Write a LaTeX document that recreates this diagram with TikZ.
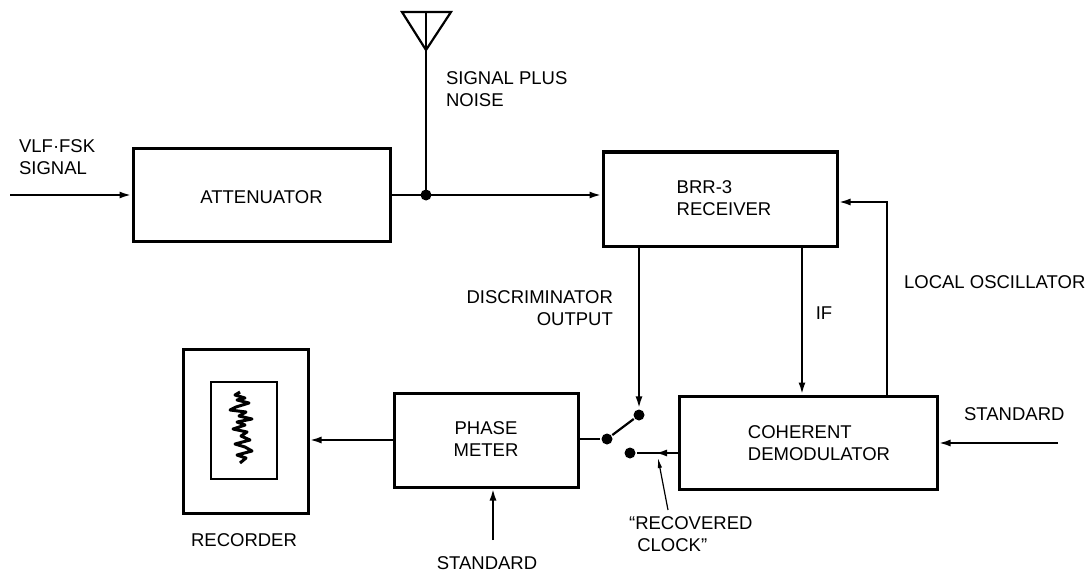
\documentclass[tikz,border=0pt]{standalone}
\usepackage{fontspec}
\setmainfont{Liberation Sans}
\usetikzlibrary{arrows.meta,decorations.markings}
\begin{document}
\begin{tikzpicture}[x=1pt,y=-1pt,
  line width=2.2pt,
  box/.style={draw,line width=3pt,inner sep=0pt},
  lbl/.style={inner sep=0pt,font=\fontsize{18.5}{21.5}\selectfont},
  arr/.style={-{Latex[length=12pt,width=7pt]}},
  midarr/.style={postaction={decorate},decoration={markings,mark=at position #1 with {\arrow{Latex[length=12pt,width=7pt]}}}},
  dot/.style={circle,fill,inner sep=0pt,minimum size=11pt}]
\useasboundingbox (0,0) rectangle (1092,575);
% boxes
\node[box,minimum width=257pt,minimum height=92pt] (att) at (261.5,195) {};
\node[lbl] (attt) at (261.5,197) {ATTENUATOR};
\node[box,minimum width=234pt,minimum height=94pt] (rec) at (720,199) {};
\node[lbl,align=left] (rect) at (724,198) {BRR-3\\RECEIVER};
\node[box,minimum width=184pt,minimum height=94pt] (pm) at (486,440) {};
\node[lbl,align=center] (pmt) at (486,439) {PHASE\\METER};
\node[box,minimum width=258pt,minimum height=93pt] (dem) at (808,442.5) {};
\node[lbl,align=left] (demt) at (819,443) {COHERENT\\DEMODULATOR};
\node[box,minimum width=125pt,minimum height=164pt] (rcd) at (245.5,431) {};
\node[draw,line width=2.4pt,inner sep=0pt,minimum width=66pt,minimum height=97pt] (rcdin) at (244,430.5) {};
\draw[line width=3pt,line join=round] (240,392) -- (235,395) -- (245,398) -- (237,400) -- (249,403) -- (236,407) -- (230,410) -- (246,412) -- (239,416) -- (252,419) -- (237,422) -- (245,425) -- (233,429) -- (247,432) -- (241,436) -- (250,440) -- (235,444) -- (245,447) -- (252,451) -- (237,455) -- (246,458) -- (240,463);
% antenna
\coordinate (ant) at (426,12);
\coordinate (jn) at (426,195);
\draw[line join=miter] (402,12) -- (451,12) -- (426,50) -- cycle;
\draw (ant) -- (jn);
\node[dot] (jnd) at (jn) {};
% input
\coordinate (in) at (10,195);
\draw[arr] (in) -- (in -| att.west);
\draw[arr] (att.east |- jn) -- (jn -| rec.west);
% local oscillator
\coordinate (lo) at (887,202);
\draw[arr] (dem.north -| lo) -- (lo) -- (lo -| rec.east);
% IF
\coordinate (ifx) at (802,300);
\draw[arr] (rec.south -| ifx) -- (dem.north -| ifx);
% discriminator and switch
\node[dot] (uc) at (639,415) {};
\node[dot] (pv) at (607,439) {};
\node[dot] (lc) at (630,453) {};
\draw[arr] (rec.south -| uc) -- (uc.north);
\draw (pm.east |- pv) -- (pv);
\draw (pv) -- (uc);
\draw[midarr=0.55] (dem.west |- lc) -- (lc);
% recovered clock pointer
\coordinate (rct) at (668,510);
\coordinate (rch) at (658,458);
\draw[line width=1.2pt,-{Latex[length=10pt,width=4.5pt]}] (rct) -- (rch);
% phase meter to recorder
\draw[arr] (pm.west) -- (pm.west -| rcd.east);
% standard inputs
\coordinate (s1) at (493,540);
\draw[arr] (s1) -- (s1 |- pm.south);
\coordinate (s2) at (1058,443);
\draw[arr] (s2) -- (s2 -| dem.east);
% labels
\node[lbl,align=left,anchor=west] (vlf) at (18,157) {VLF·FSK\\SIGNAL};
\node[lbl,align=left,anchor=west] (spn) at (445,89) {SIGNAL PLUS\\NOISE};
\node[lbl,align=right,anchor=east] (disc) at (614,308) {DISCRIMINATOR\\OUTPUT};
\node[lbl] (ift) at (824,313) {IF};
\node[lbl,anchor=west] (lot) at (903,282) {LOCAL OSCILLATOR};
\node[lbl,anchor=west] (st2) at (963,414) {STANDARD};
\node[lbl] (st1) at (487,563) {STANDARD};
\node[lbl] (rcdt) at (244,540) {RECORDER};
\node[lbl,align=left,anchor=west] (rcl) at (628,534) {``RECOVERED\\\ \,CLOCK''};
\end{tikzpicture}
\end{document}
